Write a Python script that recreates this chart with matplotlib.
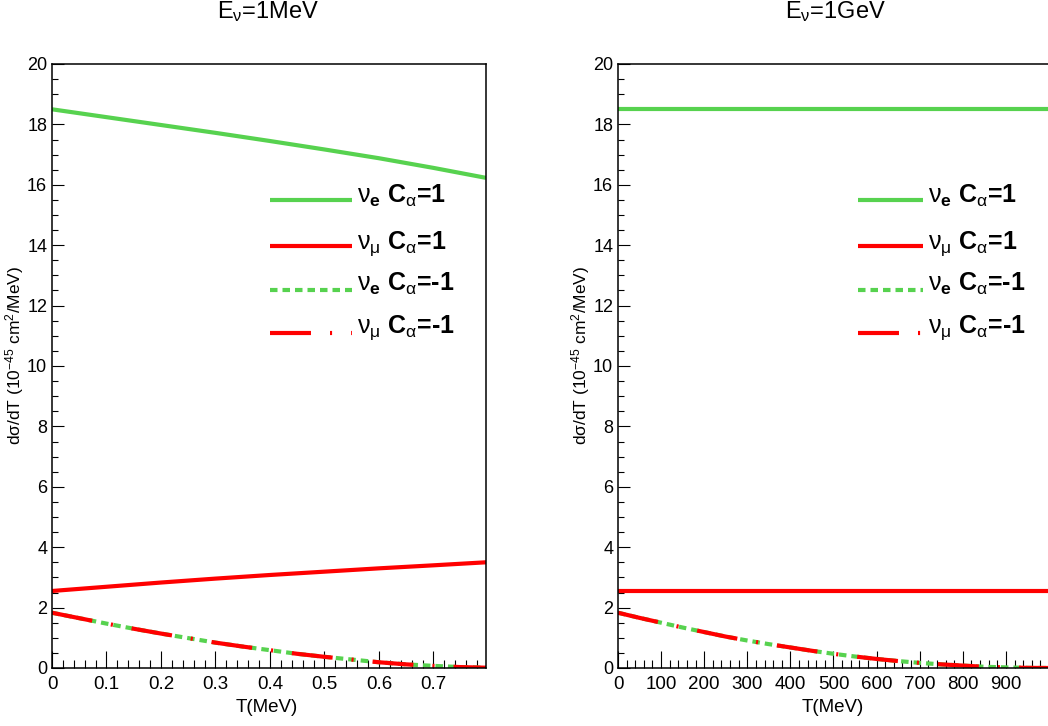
import numpy as np
import matplotlib
matplotlib.use("Agg")
import matplotlib.pyplot as plt
from matplotlib.ticker import MultipleLocator, FixedLocator, FixedFormatter
from matplotlib.lines import Line2D

plt.rcParams['font.family'] = ['Liberation Sans', 'DejaVu Sans']
plt.rcParams['mathtext.fontset'] = 'custom'
plt.rcParams['mathtext.rm'] = 'Liberation Sans'
plt.rcParams['mathtext.it'] = 'Liberation Sans:italic'
plt.rcParams['mathtext.bf'] = 'Liberation Sans:bold'
plt.rcParams['lines.scale_dashes'] = False

# ---------------- data ----------------
# Left panel: E_nu = 1 MeV
T_left = [0.0, 0.1, 0.2, 0.3, 0.4, 0.5, 0.6, 0.7, 0.7965]
nue_p1_left = [18.50, 18.24, 17.98, 17.72, 17.45, 17.17, 16.88, 16.56, 16.23]
numu_p1_left = [2.55, 2.69, 2.83, 2.96, 3.08, 3.19, 3.30, 3.40, 3.50]
T_left_m = [0.0, 0.05, 0.1, 0.15, 0.2, 0.25, 0.3, 0.35, 0.4, 0.45, 0.5,
            0.55, 0.6, 0.65, 0.7, 0.75, 0.7965]
nue_m1_left = [1.83, 1.65, 1.47, 1.30, 1.14, 0.99, 0.84, 0.71, 0.59, 0.47,
               0.37, 0.28, 0.19, 0.12, 0.07, 0.03, 0.01]
numu_m1_left = [1.83, 1.65, 1.47, 1.30, 1.14, 0.99, 0.84, 0.71, 0.59, 0.47,
                0.37, 0.28, 0.19, 0.12, 0.07, 0.03, 0.01]

# Right panel: E_nu = 1 GeV
T_right = [0.0, 1000.0]
nue_p1_right = [18.5, 18.5]
numu_p1_right = [2.55, 2.55]
T_right_m = [0, 50, 100, 150, 200, 250, 300, 350, 400, 450, 500, 550, 600,
             650, 700, 750, 800, 850, 900, 950, 1000]
nue_m1_right = [1.83, 1.66, 1.50, 1.34, 1.19, 1.04, 0.91, 0.79, 0.68, 0.57,
                0.47, 0.38, 0.30, 0.23, 0.17, 0.12, 0.08, 0.04, 0.02, 0.005, 0.0]
numu_m1_right = list(nue_m1_right)

xticks_left = [0, 0.1, 0.2, 0.3, 0.4, 0.5, 0.6, 0.7]
xticklabels_left = ['0', '0.1', '0.2', '0.3', '0.4', '0.5', '0.6', '0.7']
xticks_right = [0, 100, 200, 300, 400, 500, 600, 700, 800, 900]
xticklabels_right = ['0', '100', '200', '300', '400', '500', '600', '700', '800', '900']
yticks = [0, 2, 4, 6, 8, 10, 12, 14, 16, 18, 20]
yticklabels = ['0', '2', '4', '6', '8', '10', '12', '14', '16', '18', '20']

titles = [r'E$_\mathrm{\nu}$=1MeV', r'E$_\mathrm{\nu}$=1GeV']
labels = [r'$\mathrm{\nu}_\mathbf{e}$ C$_\mathrm{\alpha}$=1',
          r'$\mathrm{\nu}_\mathrm{\mu}$ C$_\mathrm{\alpha}$=1',
          r'$\mathrm{\nu}_\mathbf{e}$ C$_\mathrm{\alpha}$=-1',
          r'$\mathrm{\nu}_\mathrm{\mu}$ C$_\mathrm{\alpha}$=-1']
ylabel = r'd$\mathrm{\sigma}$/dT (10$^{-45}$ cm$^{2}$/MeV)'
xlabel = 'T(MeV)'

# ---------------- style ----------------
W, H = 1048, 726
GREEN = '#57d24f'
RED = '#ff0000'
LW = 3.0
DOT = (0, (5.4, 3.6))
DASHDOT = (0, (29.5, 13.7, 1.5, 13.7))

fig = plt.figure(figsize=(W / 100, H / 100), dpi=100)


def px(x, y):
    return x / W, 1 - y / H


panels = [
    dict(left=52, xlim=(0, 0.7965), T=T_left, Tm=T_left_m, a=nue_p1_left,
         b=numu_p1_left, c=nue_m1_left, d=numu_m1_left, xt=xticks_left,
         xtl=xticklabels_left, minor=0.02, title=titles[0], tx=268,
         xlx=267, ylx=15, leg_x0=270, leg_x1=352, leg_tx=357),
    dict(left=618, xlim=(0, 1007), T=T_right, Tm=T_right_m, a=nue_p1_right,
         b=numu_p1_right, c=nue_m1_right, d=numu_m1_right, xt=xticks_right,
         xtl=xticklabels_right, minor=20, title=titles[1], tx=836,
         xlx=833, ylx=581, leg_x0=858, leg_x1=923, leg_tx=928),
]

for p in panels:
    ax = fig.add_axes([p['left'] / W, 58 / H, 434 / W, 604 / H])
    ax.plot(p['T'], p['a'], color=GREEN, lw=LW, solid_capstyle='butt')
    ax.plot(p['T'], p['b'], color=RED, lw=LW, solid_capstyle='butt')
    ax.plot(p['Tm'], p['c'], color=GREEN, lw=LW, linestyle=DOT,
            dash_capstyle='butt')
    ax.plot(p['Tm'], p['d'], color=RED, lw=LW, linestyle=DASHDOT,
            dash_capstyle='butt')
    ax.set_xlim(*p['xlim'])
    ax.set_ylim(0, 20)
    ax.xaxis.set_major_locator(FixedLocator(p['xt']))
    ax.xaxis.set_major_formatter(FixedFormatter(p['xtl']))
    ax.xaxis.set_minor_locator(MultipleLocator(p['minor']))
    ax.yaxis.set_major_locator(FixedLocator(yticks))
    ax.yaxis.set_major_formatter(FixedFormatter(yticklabels))
    ax.yaxis.set_minor_locator(MultipleLocator(0.5))
    ax.tick_params(axis='x', which='major', direction='in', length=12,
                   width=0.8, labelsize=13.5, pad=6, top=False)
    ax.tick_params(axis='x', which='minor', direction='in', length=6,
                   width=0.8, top=False)
    ax.tick_params(axis='y', which='major', direction='in', length=8.5,
                   width=0.8, labelsize=13, pad=3.5, right=False)
    ax.tick_params(axis='y', which='minor', direction='in', length=4.5,
                   width=0.8, right=False)
    for s in ax.spines.values():
        s.set_linewidth(1.1)
        s.set_color('black')

    fig.text(*px(p['tx'], 12), p['title'], ha='center', va='center',
             fontsize=17)
    fig.text(*px(p['xlx'], 707), xlabel, ha='center', va='center',
             fontsize=13.5)
    fig.text(*px(p['ylx'], 355), ylabel, ha='center', va='center',
             rotation=90, fontsize=12.5)

    # legend
    rows = [200, 246, 290, 333]
    base = [203, 249, 291, 333]
    styles = [(GREEN, '-'), (RED, '-'), (GREEN, DOT), (RED, DASHDOT)]
    for (col, ls), r, bl, lab in zip(styles, rows, base, labels):
        x0, y0 = px(p['leg_x0'], r)
        x1, _ = px(p['leg_x1'], r)
        ln = Line2D([x0, x1], [y0, y0], transform=fig.transFigure,
                    color=col, lw=LW, linestyle=ls, dash_capstyle='butt',
                    solid_capstyle='butt')
        fig.add_artist(ln)
        fig.text(*px(p['leg_tx'], bl), lab, ha='left', va='baseline',
                 fontsize=18, fontweight='bold')

fig.savefig('out.png', dpi=100)
